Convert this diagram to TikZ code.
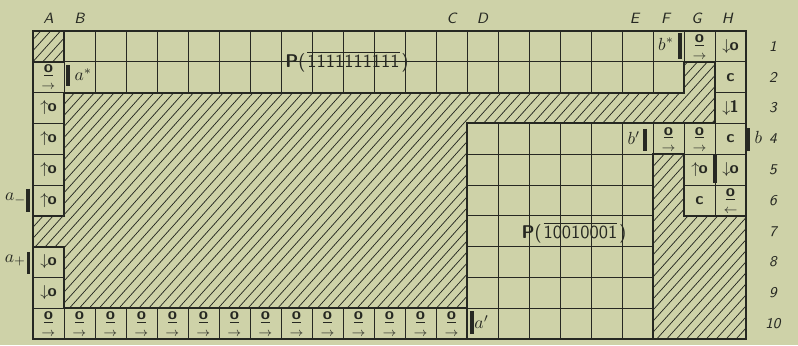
\documentclass[tikz,border=0pt]{standalone}
\definecolor{paper}{RGB}{206,210,168}
\definecolor{ink}{RGB}{38,40,34}
\newcommand{\oright}{\shortstack{\underline{\textbf{o}}\\[1.6pt]$\scriptstyle\rightarrow$}}
\newcommand{\oleft}{\shortstack{\underline{\textbf{o}}\\[1.6pt]$\scriptstyle\leftarrow$}}
\newcommand{\oup}{$\uparrow$\kern-0.5pt\textbf{o}}
\newcommand{\odown}{$\downarrow$\kern-0.5pt\textbf{o}}
\tikzset{
    gridline/.style={draw=ink, line width=0.5pt},
    border/.style={draw=ink, line width=1.2pt, line join=miter},
    hatchline/.style={draw=ink, line width=0.42pt},
    tickbar/.style={draw=ink, line width=1.8pt},
    sym/.style={font=\sffamily\fontsize{9.5}{11}\selectfont, text=ink, inner sep=0pt},
    lab/.style={font=\sffamily\slshape\fontsize{8.5}{10}\selectfont, text=ink, inner sep=0pt},
    letter/.style={font=\fontsize{10}{12}\selectfont, text=ink, inner sep=0pt},
    plabel/.style={font=\sffamily\fontsize{10.5}{12}\selectfont, text=ink, inner sep=0pt}
}
\begin{document}
\begin{tikzpicture}[x=0.62cm, y=-0.616cm]
    \useasboundingbox[fill=paper] (-1.0645,-1.0065) rectangle (24.677,10.195);

    % thin cell grid
    \foreach \i in {0,...,23} \draw[gridline] (\i,0) -- (\i,10);
    \foreach \j in {0,...,10} \draw[gridline] (0,\j) -- (23,\j);

    % hatched regions
    \begin{scope}
        \clip (1,2) -- (21,2) -- (21,1) -- (22,1) -- (22,3) -- (14,3) -- (14,9)
              -- (1,9) -- (1,7) -- (0,7) -- (0,6) -- (1,6) -- cycle
              (20,4) -- (21,4) -- (21,6) -- (23,6) -- (23,10) -- (20,10) -- cycle
              (0,0) rectangle (1,1);
        \fill[paper] (0,0) rectangle (23,10);
        \foreach \s in {-9,-8.68,...,23.2} \draw[hatchline] (\s,10) -- ++(10,-11.2);
    \end{scope}

    \draw[border] (1,2) -- (21,2) -- (21,1) -- (22,1) -- (22,3) -- (14,3) -- (14,9)
          -- (1,9) -- (1,7) -- (0,7) -- (0,6) -- (1,6) -- cycle;
    \draw[border] (20,4) -- (21,4) -- (21,6) -- (23,6) -- (23,10) -- (20,10) -- cycle;
    \draw[border] (0,0) rectangle (1,1);
    \draw[border] (14,9) -- (14,10);
    \draw[border] (0,0) rectangle (23,10);

    % column and row labels
    \foreach \c/\x in {A/0.5,B/1.5,C/13.5,D/14.5,E/19.4,F/20.4,G/21.4,H/22.4}
        \node[lab] (col\c) at (\x,-0.4) {\c};
    \foreach \r in {1,...,10}
        \node[lab] (row\r) at (23.87,\r-0.5) {\r};

    % column A
    \node[sym] (A2) at (0.5,1.5) {\oright};
    \foreach \r in {3,...,6} \node[sym] (A\r) at (0.5,\r-0.5) {\oup};
    \foreach \r in {8,9} \node[sym] (A\r) at (0.5,\r-0.5) {\odown};

    % bottom row
    \foreach \i in {1,...,14} \node[sym] (bot\i) at (\i-0.5,9.52) {\oright};

    % right-hand cells
    \node[sym] (G1) at (21.5,0.52) {\oright};
    \node[sym] (H1) at (22.5,0.5) {\odown};
    \node[sym] (H2) at (22.5,1.5) {\textbf{c}};
    \node[sym] (H3) at (22.5,2.5) {$\downarrow$\kern-0.5pt\textbf{1}};
    \node[sym] (F4) at (20.5,3.52) {\oright};
    \node[sym] (G4) at (21.5,3.52) {\oright};
    \node[sym] (H4) at (22.5,3.5) {\textbf{c}};
    \node[sym] (G5) at (21.5,4.5) {\oup};
    \node[sym] (H5) at (22.5,4.5) {\odown};
    \node[sym] (G6) at (21.5,5.5) {\textbf{c}};
    \node[sym] (H6) at (22.5,5.52) {\oleft};

    % marks and their letters
    \draw[tickbar] (1.13,1.12) -- (1.13,1.8);
    \node[letter] (astar) at (1.62,1.42) {$a^{*}$};
    \draw[tickbar] (20.87,0.08) -- (20.87,0.92);
    \node[letter] (bstar) at (20.42,0.42) {$b^{*}$};
    \draw[tickbar] (19.74,3.18) -- (19.74,3.9);
    \node[letter] (bprime) at (19.38,3.48) {$b'$};
    \draw[tickbar] (23.07,3.15) -- (23.07,3.9);
    \node[letter] (bplain) at (23.4,3.46) {$b$};
    \draw[tickbar] (14.16,9.1) -- (14.16,9.85);
    \node[letter] (aprime) at (14.47,9.45) {$a'$};
    \draw[tickbar] (-0.16,5.12) -- (-0.16,5.88);
    \node[letter] (aminus) at (-0.56,5.45) {$a_{-}$};
    \draw[tickbar] (-0.14,7.17) -- (-0.14,7.9);
    \node[letter] (aplus) at (-0.57,7.45) {$a_{+}$};
    \draw[tickbar] (22,4.02) -- (22,4.95);

    % pattern names
    \node[plabel] (Ptop) at (10.13,1.0) {\textbf{P}(\kern1pt$\overline{\mbox{1111111111}}$\kern1pt)};
    \node[plabel] (Pmid) at (17.45,6.55) {\textbf{P}(\kern1pt$\overline{\mbox{10010001}}$\kern1pt)};
\end{tikzpicture}
\end{document}
